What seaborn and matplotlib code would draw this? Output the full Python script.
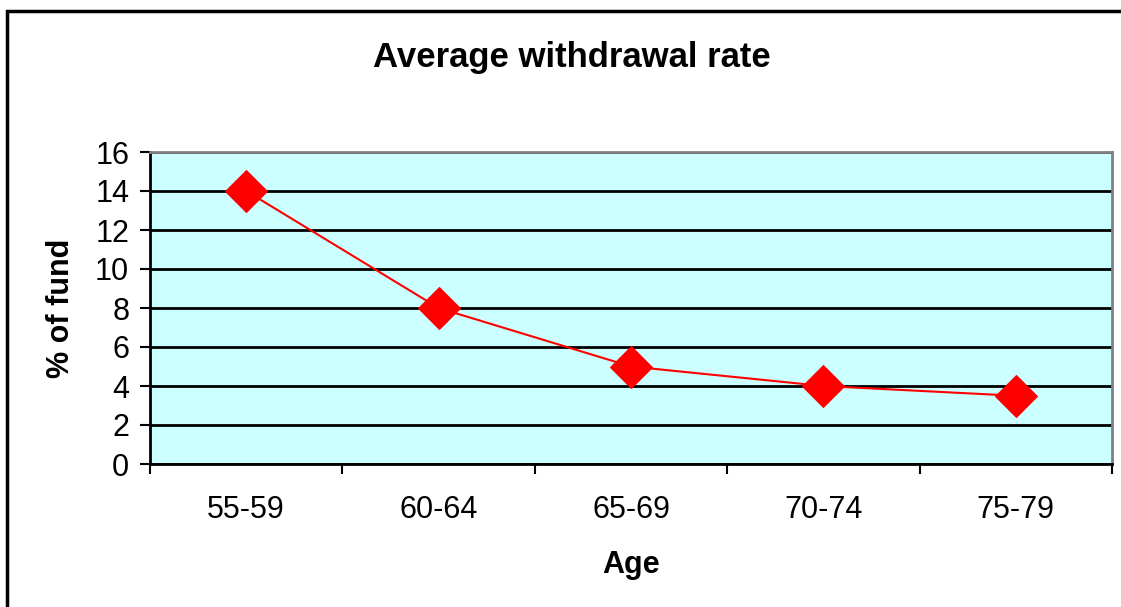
import matplotlib
matplotlib.use("Agg")
import matplotlib.pyplot as plt
import matplotlib.patches as patches
from matplotlib.ticker import FixedLocator, NullFormatter
import seaborn as sns

# Chart data
ages = ["55-59", "60-64", "65-69", "70-74", "75-79"]
withdrawal_pct = [14, 8, 5, 4, 3.5]
y_ticks = [0, 2, 4, 6, 8, 10, 12, 14, 16]

sns.set_style("white")
plt.rcParams["font.family"] = ["Liberation Sans", "DejaVu Sans"]
plt.rcParams["text.color"] = "black"
plt.rcParams["axes.labelcolor"] = "black"
plt.rcParams["xtick.color"] = "black"
plt.rcParams["ytick.color"] = "black"

fig = plt.figure(figsize=(11.21, 6.07), dpi=100)
ax = fig.add_axes([150 / 1121, 1 - 464 / 607, (1112 - 150) / 1121, (464 - 152) / 607])
ax.set_facecolor("#CCFFFF")

# Outer chart border
fig.patches.append(patches.Rectangle((7 / 1121, -0.01), 1.1, 1 - 11 / 607 + 0.01,
                                     transform=fig.transFigure, fill=False,
                                     edgecolor="black", linewidth=2.5))

sns.lineplot(x=ages, y=withdrawal_pct, ax=ax, color="red", linewidth=1.5,
             marker="D", markersize=21, markerfacecolor="red",
             markeredgecolor="red", sort=False)

ax.set_ylim(0, 16)
ax.set_xlim(-0.5, len(ages) - 0.5)
ax.set_yticks(y_ticks)
ax.yaxis.grid(True, color="black", linewidth=2)
ax.set_axisbelow(True)

# category ticks at boundaries, labels centred
ax.set_xticks(range(len(ages)))
ax.set_xticklabels(ages)
ax.xaxis.set_minor_locator(FixedLocator([i - 0.5 for i in range(len(ages) + 1)]))
ax.xaxis.set_minor_formatter(NullFormatter())
ax.tick_params(axis="x", which="major", length=0, pad=22, labelsize=22)
ax.tick_params(axis="x", which="minor", length=7, width=1.5, color="black", direction="out")
ax.tick_params(axis="y", length=7, width=1.5, color="black", direction="out", labelsize=22, pad=8)
ax.xaxis.set_ticks_position("bottom")
ax.yaxis.set_ticks_position("left")

for side in ["left", "bottom"]:
    ax.spines[side].set_color("black")
    ax.spines[side].set_linewidth(2)
for side in ["top", "right"]:
    ax.spines[side].set_color("#808080")
    ax.spines[side].set_linewidth(2)

ax.set_xlabel("Age", fontsize=22, fontweight="bold", labelpad=18)
ax.set_ylabel("% of fund", fontsize=22, fontweight="bold", labelpad=14)
fig.text(571.5 / 1121, 1 - 57 / 607, "Average withdrawal rate",
         ha="center", va="center", fontsize=25, fontweight="bold")

fig.savefig("out.png", dpi=100)
